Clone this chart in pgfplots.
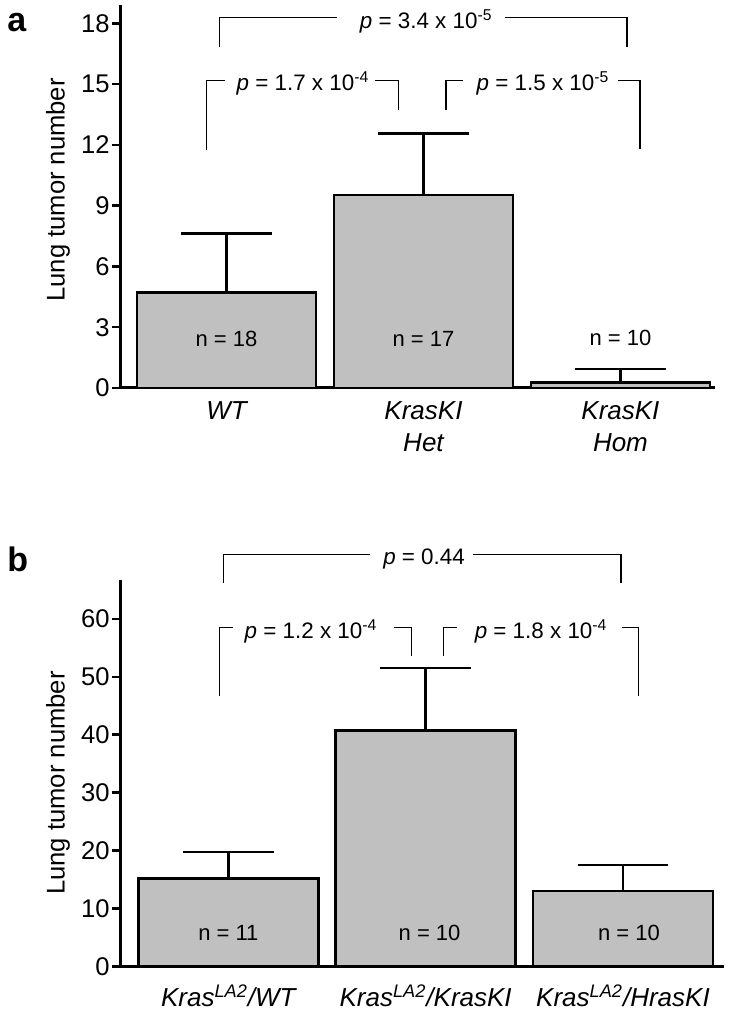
\documentclass[border=0pt]{standalone}
\usepackage{fontspec}
\setmainfont{Liberation Sans}
\usepackage{pgfplots}
\pgfplotsset{compat=1.18}
\definecolor{barfill}{RGB}{192,192,192}

\pgfplotsset{
  panel/.style={
    scale only axis,
    clip=false,
    axis x line=bottom, axis y line=left,
    axis line style={-, line width=1.5bp, black},
    ymin=0,
    xtick={0,1,2},
    major x tick style={draw=none},
    ytick style={line width=1.3bp, black},
    tick align=outside,
    major tick length=4bp,
    /pgf/number format/assume math mode=true,
    yticklabel style={font=\fontsize{12.8bp}{14bp}\selectfont, inner sep=1bp},
    xticklabel style={font=\fontsize{13bp}{16bp}\selectfont\itshape, align=center, anchor=north, inner sep=0pt},
    ylabel={Lung tumor number},
    ylabel style={font=\fontsize{12.8bp}{14bp}\selectfont, anchor=center},
  },
  barplot/.style={ybar, fill=barfill, draw=black, line width=1.3bp,
    error bars/y dir=plus, error bars/y explicit,
    error bars/error bar style={line width=1.3bp, black},
    error bars/error mark options={line width=1.3bp, mark size=22.7bp, black, rotate=90}},
}
\tikzset{
  br/.style={line width=0.6bp, black},
  ptext/.style={font=\fontsize{11.2bp}{13bp}\selectfont, anchor=base, inner sep=0pt, yshift=-5.3bp},
  ntext/.style={font=\fontsize{11bp}{13bp}\selectfont, anchor=center, inner sep=0pt},
}

\begin{document}
\begin{tikzpicture}
\useasboundingbox (0,0) rectangle (365bp,507bp);

% ---------------- panel a ----------------
\begin{axis}[panel,
  at={(60bp,313bp)}, anchor=south west,
  width=297.5bp, height=191.5bp,
  xmin=-0.5406, xmax=2.48,
  ymax=18.9,
  ytick={0,3,...,18},
  xticklabels={WT, KrasKI\\Het, KrasKI\\Hom},
  xticklabel style={yshift=-2.5bp},
  ylabel style={at={(axis description cs:-0.1042,0.517)}},
]
\addplot[barplot, bar width=89.5bp] coordinates {
  (0,4.70) +- (0,2.93)
  (1,9.52) +- (0,3.04)
  (2,0.28) +- (0,0.66)
};
\node[ntext] at (axis cs:0,2.42) {n = 18};
\node[ntext] at (axis cs:1,2.42) {n = 17};
\node[ntext] at (axis cs:2,2.47) {n = 10};
% WT vs Hom
\draw[br] (axis cs:0.559,18.28) -- (axis cs:-0.037,18.28) -- (axis cs:-0.037,16.82);
\draw[br] (axis cs:1.414,18.28) -- (axis cs:2.033,18.28) -- (axis cs:2.033,16.82);
\node[ptext] at (axis cs:1.014,18.28) {\textit{p} = 3.4 x 10\textsuperscript{-5}};
% WT vs Het
\draw[br] (axis cs:-0.0076,15.19) -- (axis cs:-0.1005,15.19) -- (axis cs:-0.1005,11.74);
\draw[br] (axis cs:0.754,15.19) -- (axis cs:0.872,15.19) -- (axis cs:0.872,13.74);
\node[ptext] at (axis cs:0.388,15.19) {\textit{p} = 1.7 x 10\textsuperscript{-4}};
% Het vs Hom
\draw[br] (axis cs:1.202,15.19) -- (axis cs:1.114,15.19) -- (axis cs:1.114,13.74);
\draw[br] (axis cs:1.989,15.19) -- (axis cs:2.099,15.19) -- (axis cs:2.099,11.77);
\node[ptext] at (axis cs:1.607,15.19) {\textit{p} = 1.5 x 10\textsuperscript{-5}};
\end{axis}

% ---------------- panel b ----------------
\begin{axis}[panel,
  at={(60bp,23.65bp)}, anchor=south west,
  width=302bp, height=193.35bp,
  xmin=-0.549, xmax=2.512,
  ymax=66.7,
  ytick={0,10,...,60},
  xticklabels={Kras\textsuperscript{LA2}/WT, Kras\textsuperscript{LA2}/KrasKI, Kras\textsuperscript{LA2}/HrasKI},
  xticklabel style={yshift=-5bp},
  ylabel style={at={(axis description cs:-0.1026,0.475)}},
]
\addplot[barplot, bar width=90bp] coordinates {
  (0,15.24) +- (0,4.54)
  (1,40.69) +- (0,10.81)
  (2,13.05) +- (0,4.48)
};
\node[ntext] at (axis cs:0,5.76) {n = 11};
\node[ntext] at (axis cs:1.02,5.76) {n = 10};
\node[ntext] at (axis cs:2.03,5.76) {n = 10};
% top
\draw[br] (axis cs:0.718,71.16) -- (axis cs:-0.025,71.16) -- (axis cs:-0.025,66.10);
\draw[br] (axis cs:1.242,71.16) -- (axis cs:1.990,71.16) -- (axis cs:1.990,66.10);
\node[ptext] at (axis cs:0.992,71.16) {\textit{p} = 0.44};
% left
\draw[br] (axis cs:0.025,58.52) -- (axis cs:-0.046,58.52) -- (axis cs:-0.046,46.72);
\draw[br] (axis cs:0.840,58.52) -- (axis cs:0.930,58.52) -- (axis cs:0.930,53.57);
\node[ptext] at (axis cs:0.419,58.52) {\textit{p} = 1.2 x 10\textsuperscript{-4}};
% right
\draw[br] (axis cs:1.158,58.52) -- (axis cs:1.090,58.52) -- (axis cs:1.090,53.57);
\draw[br] (axis cs:1.994,58.52) -- (axis cs:2.078,58.52) -- (axis cs:2.078,46.72);
\node[ptext] at (axis cs:1.585,58.52) {\textit{p} = 1.8 x 10\textsuperscript{-4}};
\end{axis}

\node[anchor=base west, inner sep=0pt, font=\fontsize{17bp}{19bp}\selectfont\bfseries] at (3.5bp,491.2bp) {a};
\node[anchor=base west, inner sep=0pt, font=\fontsize{17bp}{19bp}\selectfont\bfseries] at (3.5bp,221.2bp) {b};
\end{tikzpicture}
\end{document}
